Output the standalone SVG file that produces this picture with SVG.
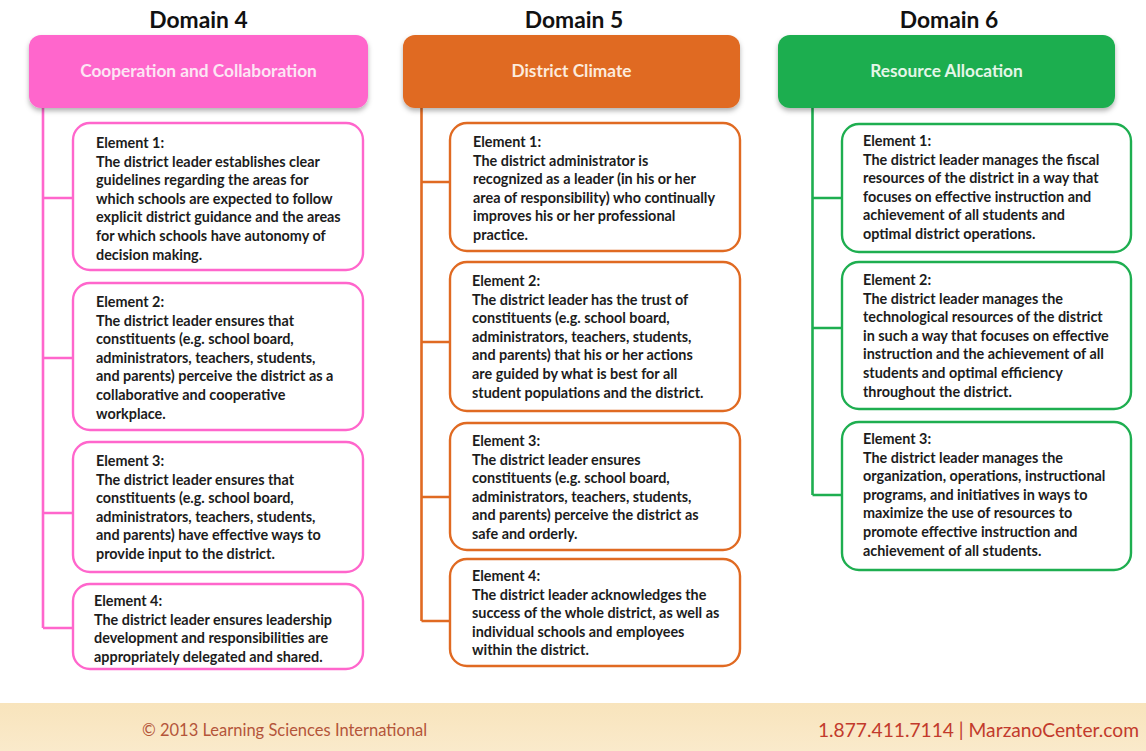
<svg xmlns="http://www.w3.org/2000/svg" width="1146" height="751" viewBox="0 0 1146 751">
<style>
.title{font-family:Lato,"Liberation Sans",sans-serif;font-weight:700;font-size:22.8px;fill:#111;text-anchor:middle}
.htext{font-family:Lato,"Liberation Sans",sans-serif;font-weight:700;font-size:17.3px;text-anchor:middle}
.body{font-family:Lato,"Liberation Sans",sans-serif;font-weight:700;font-size:14.4px;fill:#1c1c1c}
.box{fill:#fff;stroke-width:2.4}
.pink{stroke:#FF66CC}
.orange{stroke:#E06A22}
.green{stroke:#1EAE50}
.conn{fill:none;stroke-width:2.6}
.foot1{font-family:Lato,"Liberation Sans",sans-serif;font-size:16.5px;fill:#B4553A}
.foot2{font-family:Lato,"Liberation Sans",sans-serif;font-size:19.2px;fill:#C23A2C}
</style>
<defs>
<filter id="sh" x="-10%" y="-20%" width="120%" height="150%">
<feDropShadow dx="0" dy="3" stdDeviation="2.5" flood-color="#000" flood-opacity="0.3"/>
</filter>
<linearGradient id="fg" x1="0" y1="0" x2="0" y2="1">
<stop offset="0" stop-color="#F8E4BC"/>
<stop offset="1" stop-color="#FAEACB"/>
</linearGradient>
</defs>
<rect width="1146" height="751" fill="#fff"/>

<g id="connectors">
<path class="conn pink" d="M43,106 V628 M43,198 H73 M43,358 H73 M43,513 H73 M43,628 H73"/>
<path class="conn orange" d="M421.5,106 V621 M421.5,182 H450 M421.5,342 H450 M421.5,497 H450 M421.5,621 H450"/>
<path class="conn green" d="M812.5,106 V495 M812.5,198 H842 M812.5,328 H842 M812.5,495 H842"/>
</g>

<g id="domain4">
<text class="title" x="198.5" y="28">Domain 4</text>
<rect x="29" y="35" width="339" height="73" rx="12" fill="#FF66CC" filter="url(#sh)"/>
<text class="htext" x="198.5" y="77" fill="#FCE6F4">Cooperation and Collaboration</text>
</g>
<g id="d4e1">
<rect class="box pink" x="73" y="123" width="290" height="147" rx="17"/>
<text class="body"><tspan x="96" y="148">Element 1:</tspan><tspan x="96" y="166.6">The district leader establishes clear</tspan><tspan x="96" y="185.2">guidelines regarding the areas for</tspan><tspan x="96" y="203.8">which schools are expected to follow</tspan><tspan x="96" y="222.4">explicit district guidance and the areas</tspan><tspan x="96" y="241">for which schools have autonomy of</tspan><tspan x="96" y="259.6">decision making.</tspan></text>
</g>
<g id="d4e2">
<rect class="box pink" x="73" y="283" width="290" height="147" rx="17"/>
<text class="body"><tspan x="96" y="307">Element 2:</tspan><tspan x="96" y="325.6">The district leader ensures that</tspan><tspan x="96" y="344.2">constituents (e.g. school board,</tspan><tspan x="96" y="362.8">administrators, teachers, students,</tspan><tspan x="96" y="381.4">and parents) perceive the district as a</tspan><tspan x="96" y="400">collaborative and cooperative</tspan><tspan x="96" y="418.6">workplace.</tspan></text>
</g>
<g id="d4e3">
<rect class="box pink" x="73" y="442" width="290" height="130" rx="17"/>
<text class="body"><tspan x="96" y="466">Element 3:</tspan><tspan x="96" y="484.6">The district leader ensures that</tspan><tspan x="96" y="503.2">constituents (e.g. school board,</tspan><tspan x="96" y="521.8">administrators, teachers, students,</tspan><tspan x="96" y="540.4">and parents) have effective ways to</tspan><tspan x="96" y="559">provide input to the district.</tspan></text>
</g>
<g id="d4e4">
<rect class="box pink" x="73" y="584" width="290" height="85" rx="17"/>
<text class="body"><tspan x="94" y="606">Element 4:</tspan><tspan x="94" y="624.6">The district leader ensures leadership</tspan><tspan x="94" y="643.2">development and responsibilities are</tspan><tspan x="94" y="661.8">appropriately delegated and shared.</tspan></text>
</g>

<g id="domain5">
<text class="title" x="574" y="28">Domain 5</text>
<rect x="403" y="35" width="337" height="73" rx="12" fill="#E06A22" filter="url(#sh)"/>
<text class="htext" x="571.5" y="77" fill="#FCEBDD">District Climate</text>
</g>
<g id="d5e1">
<rect class="box orange" x="450" y="123" width="290" height="128" rx="17"/>
<text class="body"><tspan x="473" y="147">Element 1:</tspan><tspan x="473" y="165.6">The district administrator is</tspan><tspan x="473" y="184.2">recognized as a leader (in his or her</tspan><tspan x="473" y="202.8">area of responsibility) who continually</tspan><tspan x="473" y="221.4">improves his or her professional</tspan><tspan x="473" y="240">practice.</tspan></text>
</g>
<g id="d5e2">
<rect class="box orange" x="450" y="262" width="290" height="149" rx="17"/>
<text class="body"><tspan x="472" y="286">Element 2:</tspan><tspan x="472" y="304.6">The district leader has the trust of</tspan><tspan x="472" y="323.2">constituents (e.g. school board,</tspan><tspan x="472" y="341.8">administrators, teachers, students,</tspan><tspan x="472" y="360.4">and parents) that his or her actions</tspan><tspan x="472" y="379">are guided by what is best for all</tspan><tspan x="472" y="397.6">student populations and the district.</tspan></text>
</g>
<g id="d5e3">
<rect class="box orange" x="450" y="423" width="290" height="127" rx="17"/>
<text class="body"><tspan x="472" y="446">Element 3:</tspan><tspan x="472" y="464.6">The district leader ensures</tspan><tspan x="472" y="483.2">constituents (e.g. school board,</tspan><tspan x="472" y="501.8">administrators, teachers, students,</tspan><tspan x="472" y="520.4">and parents) perceive the district as</tspan><tspan x="472" y="539">safe and orderly.</tspan></text>
</g>
<g id="d5e4">
<rect class="box orange" x="450" y="559" width="290" height="107" rx="17"/>
<text class="body"><tspan x="472" y="581">Element 4:</tspan><tspan x="472" y="599.6">The district leader acknowledges the</tspan><tspan x="472" y="618.2">success of the whole district, as well as</tspan><tspan x="472" y="636.8">individual schools and employees</tspan><tspan x="472" y="655.4">within the district.</tspan></text>
</g>

<g id="domain6">
<text class="title" x="949" y="28">Domain 6</text>
<rect x="778" y="35" width="337" height="73" rx="12" fill="#1EAE50" filter="url(#sh)"/>
<text class="htext" x="946.5" y="77" fill="#E4F6E8">Resource Allocation</text>
</g>
<g id="d6e1">
<rect class="box green" x="842" y="124" width="289" height="128" rx="17"/>
<text class="body"><tspan x="863" y="146">Element 1:</tspan><tspan x="863" y="164.6">The district leader manages the fiscal</tspan><tspan x="863" y="183.2">resources of the district in a way that</tspan><tspan x="863" y="201.8">focuses on effective instruction and</tspan><tspan x="863" y="220.4">achievement of all students and</tspan><tspan x="863" y="239">optimal district operations.</tspan></text>
</g>
<g id="d6e2">
<rect class="box green" x="842" y="262" width="289" height="147" rx="17"/>
<text class="body"><tspan x="863" y="285">Element 2:</tspan><tspan x="863" y="303.6">The district leader manages the</tspan><tspan x="863" y="322.2">technological resources of the district</tspan><tspan x="863" y="340.8">in such a way that focuses on effective</tspan><tspan x="863" y="359.4">instruction and the achievement of all</tspan><tspan x="863" y="378">students and optimal efficiency</tspan><tspan x="863" y="396.6">throughout the district.</tspan></text>
</g>
<g id="d6e3">
<rect class="box green" x="842" y="422" width="289" height="148" rx="17"/>
<text class="body"><tspan x="863" y="444">Element 3:</tspan><tspan x="863" y="462.6">The district leader manages the</tspan><tspan x="863" y="481.2">organization, operations, instructional</tspan><tspan x="863" y="499.8">programs, and initiatives in ways to</tspan><tspan x="863" y="518.4">maximize the use of resources to</tspan><tspan x="863" y="537">promote effective instruction and</tspan><tspan x="863" y="555.6">achievement of all students.</tspan></text>
</g>

<g id="footer">
<rect x="0" y="703" width="1146" height="48" fill="url(#fg)"/>
<text class="foot1" x="142" y="736">© 2013 Learning Sciences International</text>
<text class="foot2" x="1139" y="737" text-anchor="end">1.877.411.7114 | MarzanoCenter.com</text>
</g>
</svg>
